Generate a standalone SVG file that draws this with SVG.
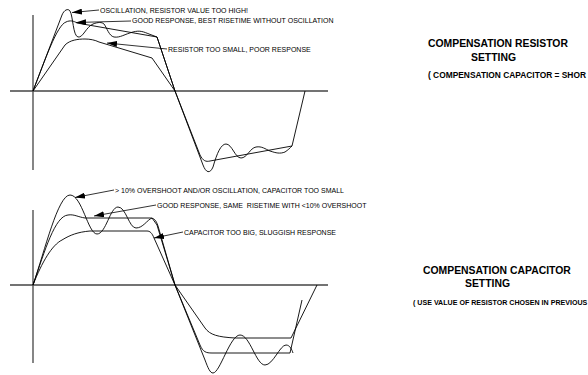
<svg xmlns="http://www.w3.org/2000/svg" width="588" height="375" viewBox="0 0 588 375">
<defs>
<style>
.axis{stroke:#444;stroke-width:1.3;fill:none}
.curve{stroke:#000;stroke-width:0.9;fill:none;stroke-linejoin:round}
.lead{stroke:#000;stroke-width:0.8;fill:none;marker-end:url(#ah)}
.lbl{font-family:"Liberation Sans",Arial,sans-serif;font-size:7px;fill:#000;white-space:pre}
.head{font-family:"Liberation Sans",Arial,sans-serif;font-size:10.4px;font-weight:bold;fill:#000}
.note{font-family:"Liberation Sans",Arial,sans-serif;font-weight:bold;fill:#000}
</style>
<marker id="ah" viewBox="0 0 10 6" refX="10" refY="3" markerWidth="10" markerHeight="6" markerUnits="userSpaceOnUse" orient="auto">
<path d="M0,0 L10,3 L0,6 Z" fill="#000"/>
</marker>
</defs>
<rect width="588" height="375" fill="#fff"/>

<g id="axes">
<line class="axis" x1="33" y1="15" x2="33" y2="170"/>
<line class="axis" x1="10" y1="91" x2="328" y2="91"/>
<line class="axis" x1="33" y1="210" x2="33" y2="363"/>
<line class="axis" x1="10" y1="285" x2="328" y2="285"/>
</g>

<g id="resistor-curves">
<path id="r-osc" class="curve" d="M33,91 L62,15 C64,10 68,8 70,11 C73,16 73,36 78,37 C83,38 86,27 93,24 C98,22 102,22 104,24 C107,28 109,36 114,37 C120,38 125,34 133,32 C140,30 144,32 149,34 L157,37 L175,91 L203,165 C206,173 210,174 213,167 C217,153 221,144 226,144 C232,144 235,158 241,158 C247,158 250,148 256,147 C262,146 265,149 270,151 C276,153 280,154 285,152 C288,150 290,148 292,146 L305,91"/>
<path id="r-good" class="curve" d="M33,91 C45,60 57,25 66,22 C70,20 74,21 77,23 L157,37 L175,91 L200,155 C203,161 206,162 210,161 L292,146"/>
<path id="r-small" class="curve" d="M33,91 L65,45 C70,40 78,39 85,39 C90,39 95,40 99,42 L152,58 L175,91"/>
</g>

<g id="capacitor-curves">
<path id="c-over" class="curve" d="M33,285 C45,250 58,195 70,195 C82,195 88,234 97,234 C106,234 110,207 118,207 C126,207 129,228 136,228 C143,228 147,220 152,218 L157,225 L175,285 L205,360 C208,368 210,373 213,373 C220,373 230,335 240,335 C250,335 256,365 265,365 C273,365 280,345 286,345 C290,345 292,350 293,353"/>
<path id="c-good" class="curve" d="M33,285 C45,250 55,216 68,215 C74,214 78,217 85,218 L150,218 C154,218 156,220 158,226 L175,285 L200,345 C203,352 206,353 212,353 L290,353 L302,300"/>
<path id="c-big" class="curve" d="M33,285 C42,262 52,245 62,240 C70,235 78,232 90,231 L147,231 C150,231 152,233 154,238 L175,285 L205,328 C210,335 218,337 235,338 L291,338 L317,285"/>
</g>

<g id="connectors">
<line class="lead" x1="99" y1="10" x2="72" y2="12.5"/>
<line class="lead" x1="131" y1="21" x2="76" y2="22.5"/>
<line class="lead" x1="167" y1="49" x2="107" y2="43"/>
<line class="lead" x1="114" y1="190" x2="75" y2="197.5"/>
<line class="lead" x1="156" y1="205" x2="94" y2="216"/>
<line class="lead" x1="183" y1="232" x2="154" y2="238"/>
</g>

<g id="label-r-osc"><text class="lbl" x="100" y="13.2">OSCILLATION, RESISTOR VALUE TOO HIGH!</text></g>
<g id="label-r-good"><text class="lbl" x="132" y="23.2">GOOD RESPONSE, BEST RISETIME WITHOUT OSCILLATION</text></g>
<g id="label-r-small"><text class="lbl" x="168" y="52">RESISTOR TOO SMALL, POOR RESPONSE</text></g>
<g id="label-c-over"><text class="lbl" x="115" y="192.5">&gt; 10% OVERSHOOT AND/OR OSCILLATION, CAPACITOR TOO SMALL</text></g>
<g id="label-c-good"><text class="lbl" x="157" y="207.5" xml:space="preserve">GOOD RESPONSE, SAME  RISETIME WITH &lt;10% OVERSHOOT</text></g>
<g id="label-c-big"><text class="lbl" x="184" y="235">CAPACITOR TOO BIG, SLUGGISH RESPONSE</text></g>

<g id="title-resistor">
<text class="head" x="428" y="47">COMPENSATION RESISTOR</text>
<text class="head" x="471" y="60.7">SETTING</text>
<text class="note" x="428" y="78" font-size="8.4">( COMPENSATION CAPACITOR = SHOR</text>
</g>
<g id="title-capacitor">
<text class="head" x="423" y="273.7">COMPENSATION CAPACITOR</text>
<text class="head" x="465" y="287">SETTING</text>
<text class="note" x="413" y="305.3" font-size="7.1">( USE VALUE OF RESISTOR CHOSEN IN PREVIOUS</text>
</g>
</svg>
